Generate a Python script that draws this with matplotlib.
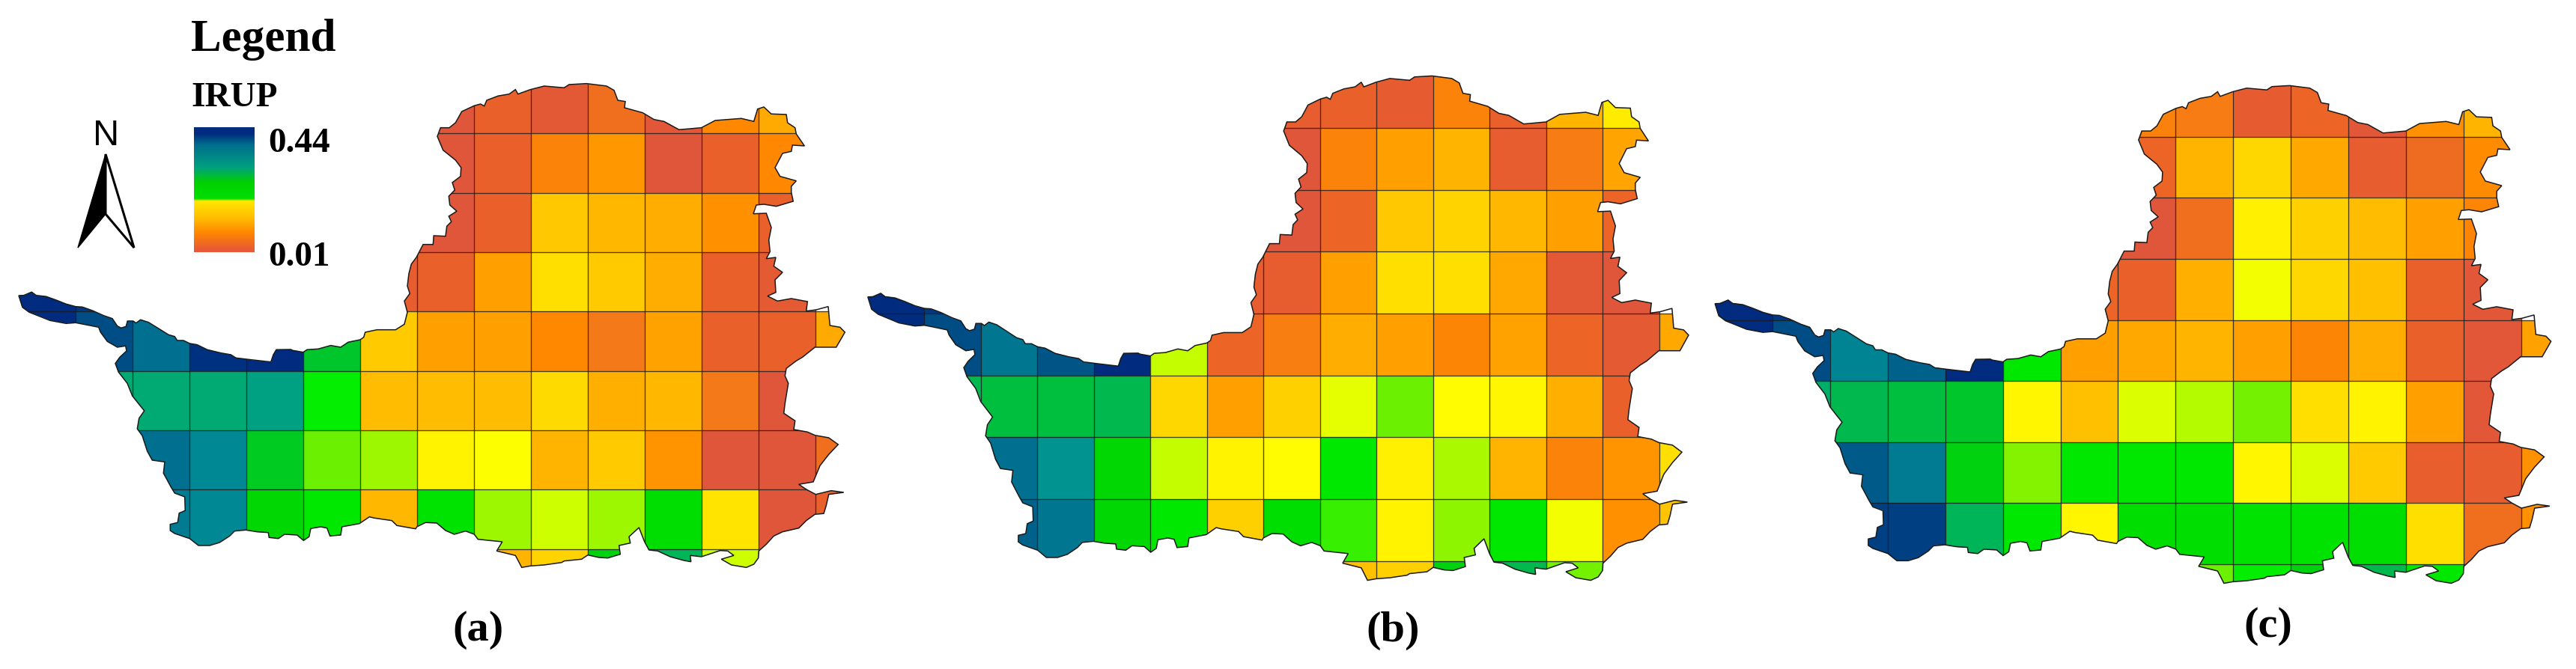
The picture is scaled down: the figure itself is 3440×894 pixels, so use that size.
import matplotlib

matplotlib.use("Agg")
import matplotlib.pyplot as plt
import numpy as np
from matplotlib.colors import LinearSegmentedColormap, Normalize
from matplotlib.patches import Polygon

plt.rcParams["font.family"] = ["Liberation Serif", "DejaVu Serif"]

nan = float("nan")

# grid of the study area, in map units
col_edges = [24.9 + 76.0 * i for i in range(16)]
row_edges = [99.9 + 79.33 * i for i in range(10)]

# position of each cell on the IRUP ramp, 0 = 0.01 and 100 = 0.44 (read by colour)
levels_a = [
    [nan, nan, nan, nan, nan, nan, nan, 0, 7, 2, 10, 1, 18, 28, nan],
    [nan, nan, nan, nan, nan, nan, nan, 0, 7, 16, 22, 0, 7, 18, nan],
    [nan, nan, nan, nan, nan, nan, nan, 0, 7, 36, 32, 29, 20, 7, nan],
    [100, 98, nan, nan, nan, nan, 5, 7, 24, 42, 37, 29, 7, 3, nan],
    [100, 95, 90, 99, 100, 73, 37, 24, 24, 18, 12, 25, 7, 7, 28],
    [nan, 78, 78, 78, 81, 66, 33, 33, 33, 41, 30, 32, 12, 0, nan],
    [nan, nan, 90, 86, 72, 62, 58, 47, 50, 31, 37, 21, 0, 0, 10],
    [nan, nan, 88, 86, 70, 67, 32, 68, 58, 54, 58, 69, 43, 0, 7],
    [nan, nan, nan, nan, nan, nan, nan, nan, 31, 39, 71, 76, 54, nan, nan],
]
levels_b = [
    [nan, nan, nan, nan, nan, nan, nan, 5, 7, 4, 16, 7, 31, 45, nan],
    [nan, nan, nan, nan, nan, nan, nan, 0, 16, 24, 31, 5, 13, 26, nan],
    [nan, nan, nan, nan, nan, nan, nan, 0, 8, 36, 39, 32, 24, 8, nan],
    [100, 98, nan, nan, nan, nan, 5, 5, 24, 42, 42, 27, 2, 0, nan],
    [100, 95, 89, 94, 100, 55, 8, 14, 29, 24, 17, 25, 8, 3, 27],
    [nan, 75, 74, 74, 75, 40, 24, 38, 52, 62, 49, 48, 30, 7, nan],
    [nan, nan, 90, 84, 70, 55, 47, 49, 67, 46, 57, 31, 16, 21, 42],
    [nan, nan, 92, 89, 70, 67, 38, 69, 64, 47, 59, 67, 51, 20, 35],
    [nan, nan, nan, nan, nan, nan, nan, nan, 34, 38, 71, 75, 61, nan, nan],
]
levels_c = [
    [nan, nan, nan, nan, nan, nan, nan, 15, 13, 4, 8, 1, 20, 31, nan],
    [nan, nan, nan, nan, nan, nan, nan, 8, 31, 40, 27, 5, 9, 19, nan],
    [nan, nan, nan, nan, nan, nan, nan, 0, 10, 46, 38, 33, 24, 17, nan],
    [100, 98, nan, nan, nan, nan, 8, 7, 30, 51, 40, 34, 7, 1, nan],
    [100, 95, 87, 92, 100, 67, 24, 27, 31, 24, 17, 29, 7, 1, 25],
    [nan, 77, 75, 74, 73, 48, 34, 53, 56, 61, 42, 47, 24, 1, nan],
    [nan, nan, 93, 88, 71, 60, 67, 67, 67, 48, 53, 37, 6, 5, 20],
    [nan, nan, 97, 97, 76, 67, 48, 69, 69, 68, 68, 69, 42, 10, 20],
    [nan, nan, nan, nan, nan, nan, nan, nan, 62, 66, 71, 75, 67, nan, nan],
]

# boundary of the study area, clockwise from the western tip, in map units
outline_x = [
    25, 31.7, 42.3, 48.3, 61.7, 75, 88.3, 101, 110, 123.3, 138.3, 150, 156.7, 161.7, 168.3, 170.3,
    177.7, 181.7, 187.7, 198.3, 211.7, 225, 233.3, 236.7, 245, 253.3, 263.3, 276.7, 295, 308.3, 315,
    335, 361.7, 365, 369, 388.3, 391, 405, 410, 425, 441.7, 455, 465, 481, 485.7, 487.7,
    503.3, 528.3, 540, 544, 540, 547.3, 544, 546, 549.3, 556, 565, 578.3, 579.3, 595, 596.7, 602.7,
    599.3, 610, 600.7, 599.3, 607.3, 604, 615, 615.7, 608.3, 591.7, 584, 588.3, 600, 608.3, 616.7,
    633.3, 641.7, 646.7, 650, 665, 680, 688.3, 691.7, 708.3, 726.7, 753.3, 760, 783.3, 810, 820, 825,
    835, 834, 858.3, 873.3, 886.7, 906.7, 936.7, 955, 990, 1006.7, 1011.7, 1020, 1030, 1050, 1051.7,
    1061.7, 1063.3, 1074.3, 1058.3, 1056.7, 1045, 1035, 1041.7, 1063.3, 1056.7, 1056.7, 1059.3, 1036.7,
    1020, 1010, 1006, 1023.3, 1030, 1026.7, 1028.3, 1023.3, 1036, 1033.3, 1045, 1035, 1036, 1025,
    1038.3, 1056.7, 1078.3, 1076.7, 1090, 1106, 1108.3, 1121.7, 1128.3, 1116.7, 1088.3, 1071.7, 1063.3,
    1050, 1048.3, 1052.7, 1048.3, 1046.7, 1061.7, 1060, 1078.3, 1088.3, 1106.7, 1119.3, 1106.7, 1095,
    1086, 1066.7, 1076.7, 1089.3, 1110, 1126.7, 1106.7, 1103.3, 1100, 1088.3, 1076.7, 1066.7, 1045,
    1033.3, 1023.3, 1013.3, 1012.7, 1006.7, 996.7, 976.7, 963.3, 980, 971.7, 961.7, 936.7, 921.7,
    922.7, 913.3, 895, 878.3, 866.7, 860.7, 853.3, 840, 841.7, 826.7, 828.3, 811.7, 800, 785, 776.7,
    753.3, 750, 726.7, 708.3, 696.7, 688.3, 663.3, 670.7, 638.3, 633.3, 621.7, 606.7, 595, 583.3,
    568.3, 556.7, 555, 530, 523.3, 500, 493.3, 480, 456.7, 455, 440.7, 436.7, 428.3, 415, 412.7,
    405.3, 396.7, 380, 371.7, 359.3, 358.3, 343.3, 328.3, 313.3, 306.7, 293.3, 280, 265, 253.3,
    233.3, 227.3, 227.3, 237.3, 239.3, 247.3, 246.7, 233.3, 228.3, 218.3, 220, 203.3, 196.7, 190,
    183.3, 185.7, 192.7, 183.3, 176.7, 170, 158.3, 154, 160, 169, 167.7, 156.7, 143.3, 134.3, 131.7,
    115, 101, 88.3, 66.7, 51.7, 39, 30, 25,
]
outline_y = [
    396, 395.7, 391.3, 395.7, 397.3, 402, 407.3, 410.7, 411.3, 416, 422.7, 426.7, 436.7, 439.3, 437.3, 430,
    430, 432.7, 428.3, 431.7, 440, 448.3, 450.7, 456, 456, 460, 461.7, 468.3, 472.7, 475, 479.3,
    481.7, 484.7, 475, 468.3, 468, 469.3, 471.7, 468.3, 467.3, 462.7, 465, 458.3, 455, 451.7, 445,
    441.7, 441.7, 434.3, 418.3, 403.3, 393.3, 383.3, 366.7, 354, 345, 327.7, 327.7, 316, 316.7, 303.3, 297.3,
    290, 283.3, 275, 263.3, 255, 245, 236.7, 225, 215, 201.7, 183.3, 171.7, 171.7, 165, 150,
    142.3, 140, 142.7, 135, 129.3, 126.7, 120.7, 126.7, 120.7, 116, 118.3, 114, 112.7, 116, 121.7, 135,
    136.7, 145, 151.7, 160.7, 163.3, 174.3, 171.7, 162, 159.3, 163.3, 146.7, 144, 153.3, 154, 165,
    171.7, 180, 196, 195, 203.3, 206, 225, 236.7, 242.7, 250, 258.3, 270, 276.7,
    274, 275, 286.7, 286, 305, 321.7, 337.3, 346.7, 345, 356.7, 365, 375, 391.7, 396.7,
    403.3, 400, 404, 416.7, 415, 410.7, 436, 438.3, 445, 465, 465, 478.3, 483.3,
    493.3, 503.3, 513.3, 540, 553.3, 563.3, 575, 578.3, 582.7, 586, 595, 608.3, 623.3,
    645, 648.3, 655, 661.7, 656.7, 659, 661.7, 676.7, 687.3, 688.3, 696.7, 706.7, 711.7,
    717.3, 728.3, 737.3, 746.7, 755, 759.3, 756, 748.3, 743.3, 737.3, 736.7, 745, 743.3,
    751.7, 750, 745, 737.3, 736, 725, 706, 718.3, 726.7, 730, 741.7, 746.7, 746, 742.7, 748.3,
    750.7, 752.7, 756, 757.3, 759.3, 743.3, 737.3, 725, 721.7, 715, 710.7, 715, 710, 700,
    699.3, 705, 707.7, 703.3, 696.7, 693.3, 691.7, 700.7, 705, 716, 717.3, 706.7, 705, 707.3, 718.3,
    723.3, 716, 715, 720.7, 719.3, 712.7, 711.7, 709.3, 710.7, 717.3, 726, 730, 730, 720.7,
    714, 710, 701.7, 699.3, 686.7, 683.3, 665, 660, 651.7, 633.3, 618.3, 616, 604, 583.3,
    574, 560, 550, 538.3, 530, 513.3, 498.3, 486.7, 478.3, 470, 463.3, 465, 457.3, 445, 438.3,
    435, 432.3, 433.3, 429.3, 423.3, 418.3, 411.7, 396,
]

ramp_stops = [
    (0.00, "#e0563a"), (0.07, "#ea6029"), (0.12, "#f57a18"), (0.18, "#ff8800"), (0.24, "#ff9f00"),
    (0.30, "#ffb000"), (0.36, "#ffc800"), (0.42, "#ffdf00"), (0.50, "#ffff00"), (0.54, "#d0ff00"),
    (0.58, "#9cf700"), (0.62, "#6af000"), (0.66, "#00ee00"), (0.70, "#00d800"), (0.74, "#00bf3c"),
    (0.78, "#00aa72"), (0.82, "#009f88"), (0.86, "#008a94"), (0.90, "#007090"), (0.95, "#004f85"),
    (1.00, "#002b7f"),
]
legend_stops = [
    (0.00, "#e85a35"), (0.02, "#e85a35"), (0.157, "#ff8800"), (0.26, "#ffb800"), (0.41, "#ffe800"),
    (0.428, "#00e000"), (0.56, "#00d000"), (0.68, "#00a080"), (0.86, "#006e8c"), (0.95, "#002b7f"),
    (1.00, "#002b7f"),
]
irup_min = 0.01
irup_max = 0.44

W, H = 3441, 895
fig = plt.figure(figsize=(W / 100, H / 100), dpi=100, facecolor="white")

ramp = LinearSegmentedColormap.from_list("irup", ramp_stops)
legend_ramp = LinearSegmentedColormap.from_list("irup_legend", legend_stops)
norm = Normalize(irup_min, irup_max)

# map extent shown in each panel
view_x = (0, 1170)
view_y = (90, 800)


def draw_panel(levels, left, top, cell_w, cell_h):
    # left/top: pixel position of the first inner grid lines, cell_w/cell_h: cell size in pixels
    sx = cell_w / 76.0
    sy = cell_h / 79.33
    x0 = left + (view_x[0] - col_edges[1]) * sx
    x1 = left + (view_x[1] - col_edges[1]) * sx
    y0 = top + (view_y[0] - row_edges[1]) * sy
    y1 = top + (view_y[1] - row_edges[1]) * sy
    ax = fig.add_axes([x0 / W, 1 - y1 / H, (x1 - x0) / W, (y1 - y0) / H])
    ax.set_xlim(*view_x)
    ax.set_ylim(view_y[1], view_y[0])
    ax.axis("off")

    irup = irup_min + (irup_max - irup_min) * np.array(levels, dtype=float) / 100.0
    mesh = ax.pcolormesh(col_edges, row_edges, np.ma.masked_invalid(irup), cmap=ramp, norm=norm, antialiased=False)

    shape = Polygon(np.column_stack([outline_x, outline_y]), closed=True, fc="none", ec="#1a1a1a", lw=1.1, zorder=4)
    ax.add_patch(shape)
    mesh.set_clip_path(shape)

    v = ax.vlines(col_edges[1:-1], view_y[0], view_y[1], color="#1a1a1a", lw=0.95, alpha=0.8, zorder=3)
    h = ax.hlines(row_edges[1:-1], view_x[0], view_x[1], color="#1a1a1a", lw=0.95, alpha=0.8, zorder=3)
    v.set_clip_path(shape)
    h.set_clip_path(shape)


draw_panel(levels_a, 100.9, 179.2, 76.0, 79.33)
draw_panel(levels_b, 1234.3, 171.8, 75.5, 82.7)
draw_panel(levels_c, 2367.0, 183.8, 76.9, 81.6)

# legend, north arrow and captions sit on a full size axes in pixels
page = fig.add_axes([0, 0, 1, 1], facecolor="none")
page.set_xlim(0, W)
page.set_ylim(H, 0)
page.axis("off")

page.imshow(np.linspace(1, 0, 256).reshape(-1, 1), cmap=legend_ramp, vmin=0, vmax=1,
            extent=(259, 339.3, 338.3, 171.7), aspect="auto", interpolation="bilinear")
page.set_xlim(0, W)
page.set_ylim(H, 0)

page.text(255, 68, "Legend", fontsize=44, fontweight="bold", va="baseline")
page.text(255, 142, "IRUP", fontsize=34, fontweight="bold", va="baseline")
page.text(358, 203, "0.44", fontsize=34, fontweight="bold", va="baseline")
page.text(358, 355, "0.01", fontsize=34, fontweight="bold", va="baseline")

page.text(142, 194, "N", fontsize=35, family=["Liberation Sans"], ha="center", va="baseline")
page.add_patch(Polygon([(141, 207), (179, 332), (141, 287)], closed=True, fc="white", ec="black", lw=2.2, joinstyle="miter"))
page.add_patch(Polygon([(141, 207), (104, 332), (141, 287)], closed=True, fc="black", ec="black", lw=1.0, joinstyle="miter"))

page.text(639, 856, "(a)", fontsize=42, fontweight="bold", ha="center", va="baseline")
page.text(1860, 857, "(b)", fontsize=42, fontweight="bold", ha="center", va="baseline")
page.text(3029, 851, "(c)", fontsize=42, fontweight="bold", ha="center", va="baseline")

fig.savefig("out.png", dpi=100, facecolor="white")
plt.close(fig)
